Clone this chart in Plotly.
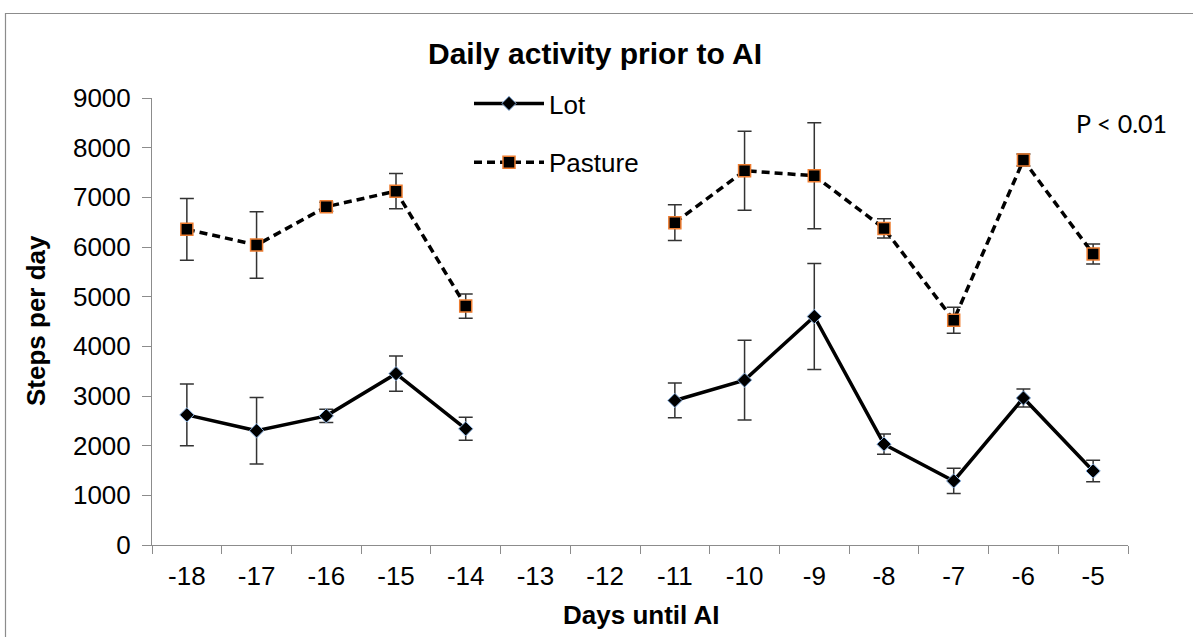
import plotly.graph_objects as go

days = ["-18", "-17", "-16", "-15", "-14", "-13", "-12", "-11", "-10", "-9", "-8", "-7", "-6", "-5"]
lot = [2620, 2300, 2600, 3450, 2340, None, None, 2910, 3320, 4600, 2030, 1290, 2960, 1490]
lot_err = [620, 670, 135, 355, 230, None, None, 350, 805, 1067, 205, 255, 180, 215]
pasture = [6355, 6040, 6810, 7125, 4810, None, None, 6490, 7535, 7435, 6375, 4525, 7750, 5860]
pasture_err = [620, 670, 90, 355, 245, None, None, 360, 795, 1067, 195, 260, 120, 200]

W, H = 1193, 637
L, R, T, B = 152, 1128, 98, 545
pw, ph = R - L, B - T

def px(x):
    return (x - L) / pw

def py(y):
    return (B - y) / ph

font = "Liberation Sans, Arial, sans-serif"

fig = go.Figure()
fig.add_trace(go.Scatter(
    x=days, y=lot, name="Lot", mode="lines+markers", legendgroup="a",
    line=dict(color="black", width=3.5),
    marker=dict(symbol="diamond", size=11, color="black", line=dict(color="#8db4e2", width=1)),
    error_y=dict(type="data", array=lot_err, color="#333333", thickness=1.5, width=7),
    connectgaps=False,
))
fig.add_trace(go.Scatter(
    x=days, y=pasture, name="Pasture", mode="lines+markers", legendgroup="b",
    line=dict(color="black", width=3.5, dash="8px,5px"),
    marker=dict(symbol="square", size=12, color="black", line=dict(color="#ed7d31", width=1.5)),
    error_y=dict(type="data", array=pasture_err, color="#333333", thickness=1.5, width=7),
    connectgaps=False,
))

fig.update_layout(
    width=W, height=H,
    margin=dict(l=L, r=W - R, t=T, b=H - B, pad=0),
    paper_bgcolor="white", plot_bgcolor="white",
    font=dict(family=font, size=26, color="black"),
    showlegend=True,
    legend=dict(x=px(469), y=py(80), xanchor="left", yanchor="top",
                font=dict(size=26, family=font), itemwidth=70,
                tracegroupgap=22, bgcolor="rgba(0,0,0,0)"),
    xaxis=dict(type="category", categoryorder="array", categoryarray=days,
               range=[-0.5, 13.5], showline=True, linecolor="#8c8c8c", linewidth=1,
               ticks="outside", tickson="boundaries", ticklen=8, tickcolor="#8c8c8c",
               showgrid=False, zeroline=False, tickfont=dict(size=26, family=font),
               ticklabelstandoff=8, fixedrange=True),
    yaxis=dict(range=[0, 9000], tickvals=[0, 1000, 2000, 3000, 4000, 5000, 6000, 7000, 8000, 9000],
               showline=True, linecolor="#8c8c8c", linewidth=1,
               ticks="outside", ticklen=9, tickcolor="#8c8c8c",
               showgrid=False, zeroline=False, tickfont=dict(size=26, family=font),
               ticklabelstandoff=6, fixedrange=True),
    shapes=[dict(type="rect", xref="paper", yref="paper",
                 x0=px(5.5), x1=px(1200), y0=py(650), y1=py(13.5),
                 line=dict(color="#8c8c8c", width=1.2), fillcolor="rgba(0,0,0,0)", layer="below")],
    annotations=[
        dict(text="<b>Daily activity prior to AI</b>", x=px(595), y=py(53), xref="paper", yref="paper",
             xanchor="center", yanchor="middle", showarrow=False, font=dict(size=30, family=font)),
        dict(text="<b>Days until AI</b>", x=px(641), y=py(615), xref="paper", yref="paper",
             xanchor="center", yanchor="middle", showarrow=False, font=dict(size=26, family=font)),
        dict(text="<b>Steps per day</b>", x=px(36), y=py(321), xref="paper", yref="paper",
             xanchor="center", yanchor="middle", showarrow=False, textangle=-90,
             font=dict(size=26, family=font)),
        dict(text="P < 0.01", x=px(1121), y=py(123), xref="paper", yref="paper",
             xanchor="center", yanchor="middle", showarrow=False, font=dict(size=25, family="Lato")),
    ],
)

fig.write_html("out.html")
